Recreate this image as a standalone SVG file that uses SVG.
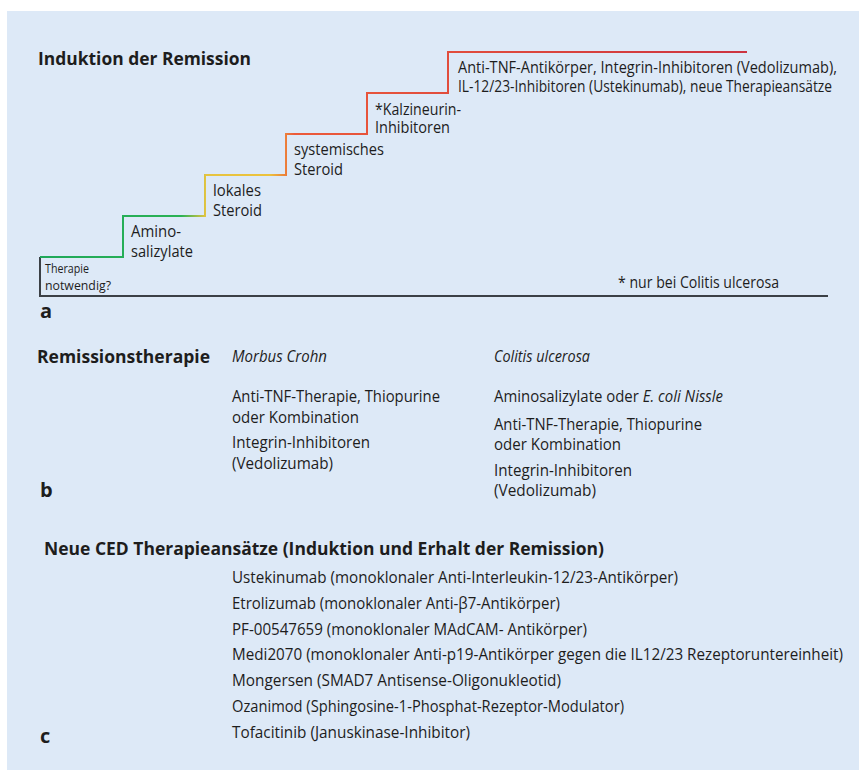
<svg xmlns="http://www.w3.org/2000/svg" width="859" height="770" viewBox="0 0 859 770">
<defs>
<linearGradient id="stairGrad" gradientUnits="userSpaceOnUse" x1="40" y1="0" x2="747" y2="0">
<stop offset="0" stop-color="#1fa85a"/>
<stop offset="0.2" stop-color="#2bb255"/>
<stop offset="0.235" stop-color="#e6c440"/>
<stop offset="0.325" stop-color="#ecc23c"/>
<stop offset="0.36" stop-color="#ec5a3a"/>
<stop offset="1" stop-color="#cc3340"/>
</linearGradient>
<style>
.t{font-family:"Open Sans","Noto Sans","Liberation Sans",sans-serif;font-size:15.5px;fill:#1d1d1d}
.m{font-size:16.5px}
.s{font-size:13.5px}
.b{font-weight:bold;font-size:17px}
.lab{font-weight:bold;font-size:20px}
.i{font-style:italic}
.axis{fill:none;stroke:#3b4046;stroke-width:2}
.stair{fill:none;stroke:url(#stairGrad);stroke-width:2}
</style>
</defs>
<rect x="0" y="0" width="859" height="770" fill="#ffffff"/>
<rect x="7" y="11" width="852" height="759" fill="#dde9f7"/>

<g id="connectors">
<path class="axis" d="M40,257 V296 H828"/>
<path class="stair" d="M40,257 H123 V216 H205 V175 H286 V134 H367 V93 H448 V52 H747"/>
</g>

<g id="panel-a">
<text class="t b" x="38" y="65" textLength="213" lengthAdjust="spacingAndGlyphs">Induktion der Remission</text>
<g id="step0"><text class="t s" x="45" y="273" textLength="44" lengthAdjust="spacingAndGlyphs">Therapie</text><text class="t s" x="45" y="290" textLength="66" lengthAdjust="spacingAndGlyphs">notwendig?</text></g>
<g id="step1"><text class="t" x="131" y="237" textLength="50" lengthAdjust="spacingAndGlyphs">Amino-</text><text class="t" x="131" y="257" textLength="62" lengthAdjust="spacingAndGlyphs">salizylate</text></g>
<g id="step2"><text class="t" x="213" y="196" textLength="48" lengthAdjust="spacingAndGlyphs">lokales</text><text class="t" x="213" y="216" textLength="49" lengthAdjust="spacingAndGlyphs">Steroid</text></g>
<g id="step3"><text class="t" x="294" y="155" textLength="90" lengthAdjust="spacingAndGlyphs">systemisches</text><text class="t" x="294" y="175" textLength="49" lengthAdjust="spacingAndGlyphs">Steroid</text></g>
<g id="step4"><text class="t" x="375" y="115" textLength="86" lengthAdjust="spacingAndGlyphs">*Kalzineurin-</text><text class="t" x="375" y="133" textLength="75" lengthAdjust="spacingAndGlyphs">Inhibitoren</text></g>
<g id="step5"><text class="t" x="458" y="73" textLength="379" lengthAdjust="spacingAndGlyphs">Anti-TNF-Antikörper, Integrin-Inhibitoren (Vedolizumab),</text><text class="t" x="458" y="92" textLength="374" lengthAdjust="spacingAndGlyphs">IL-12/23-Inhibitoren (Ustekinumab), neue Therapieansätze</text></g>
<text class="t" x="618" y="288" font-size="14.5" textLength="161" lengthAdjust="spacingAndGlyphs">* nur bei Colitis ulcerosa</text>
<text class="t lab" x="40" y="318">a</text>
</g>

<g id="panel-b">
<text class="t b" x="37" y="363" font-size="17.5" textLength="173" lengthAdjust="spacingAndGlyphs">Remissionstherapie</text>
<g id="mc">
<text class="t m i" x="232" y="362" textLength="95" lengthAdjust="spacingAndGlyphs">Morbus Crohn</text>
<text class="t m" x="232" y="402" textLength="208" lengthAdjust="spacingAndGlyphs">Anti-TNF-Therapie, Thiopurine</text>
<text class="t m" x="232" y="423" textLength="127" lengthAdjust="spacingAndGlyphs">oder Kombination</text>
<text class="t m" x="232" y="448" textLength="138" lengthAdjust="spacingAndGlyphs">Integrin-Inhibitoren</text>
<text class="t m" x="232" y="469" textLength="101" lengthAdjust="spacingAndGlyphs">(Vedolizumab)</text>
</g>
<g id="cu">
<text class="t m i" x="494" y="362" textLength="96" lengthAdjust="spacingAndGlyphs">Colitis ulcerosa</text>
<text class="t m" x="494" y="402" textLength="229" lengthAdjust="spacingAndGlyphs">Aminosalizylate oder <tspan class="i">E. coli Nissle</tspan></text>
<text class="t m" x="494" y="430" textLength="208" lengthAdjust="spacingAndGlyphs">Anti-TNF-Therapie, Thiopurine</text>
<text class="t m" x="494" y="450" textLength="127" lengthAdjust="spacingAndGlyphs">oder Kombination</text>
<text class="t m" x="494" y="476" textLength="138" lengthAdjust="spacingAndGlyphs">Integrin-Inhibitoren</text>
<text class="t m" x="494" y="496" textLength="102" lengthAdjust="spacingAndGlyphs">(Vedolizumab)</text>
</g>
<text class="t lab" x="40" y="497">b</text>
</g>

<g id="panel-c">
<text class="t b" x="44" y="555" font-size="17.5" textLength="560" lengthAdjust="spacingAndGlyphs">Neue CED Therapieansätze (Induktion und Erhalt der Remission)</text>
<text class="t m" x="232" y="583" textLength="446" lengthAdjust="spacingAndGlyphs">Ustekinumab (monoklonaler Anti-Interleukin-12/23-Antikörper)</text>
<text class="t m" x="232" y="609" textLength="328" lengthAdjust="spacingAndGlyphs">Etrolizumab (monoklonaler Anti-β7-Antikörper)</text>
<text class="t m" x="232" y="635" textLength="355" lengthAdjust="spacingAndGlyphs">PF-00547659 (monoklonaler MAdCAM- Antikörper)</text>
<text class="t m" x="232" y="660" textLength="611" lengthAdjust="spacingAndGlyphs">Medi2070 (monoklonaler Anti-p19-Antikörper gegen die IL12/23 Rezeptoruntereinheit)</text>
<text class="t m" x="232" y="686" textLength="329" lengthAdjust="spacingAndGlyphs">Mongersen (SMAD7 Antisense-Oligonukleotid)</text>
<text class="t m" x="232" y="712" textLength="392" lengthAdjust="spacingAndGlyphs">Ozanimod (Sphingosine-1-Phosphat-Rezeptor-Modulator)</text>
<text class="t m" x="232" y="738" textLength="238" lengthAdjust="spacingAndGlyphs">Tofacitinib (Januskinase-Inhibitor)</text>
<text class="t lab" x="40" y="743">c</text>
</g>
</svg>
